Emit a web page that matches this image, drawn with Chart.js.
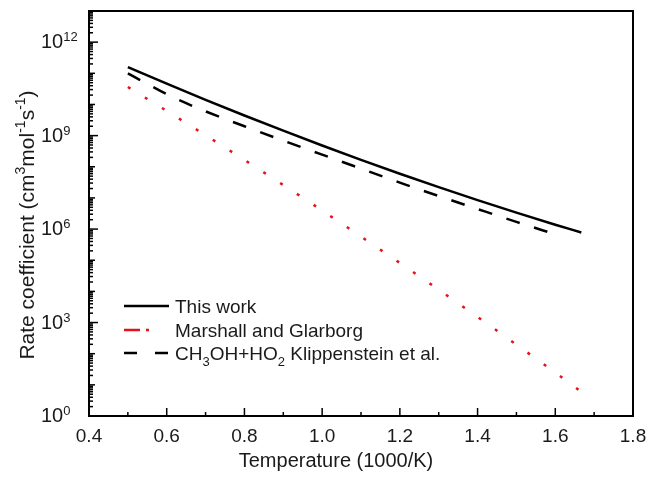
<!DOCTYPE html>
<html>
<head>
<meta charset="utf-8">
<script src="https://cdn.jsdelivr.net/npm/chart.js@4.4.1/dist/chart.umd.min.js"></script>
<style>
html, body { margin: 0; padding: 0; background: #fff; }
#wrap { width: 649px; height: 478px; }
</style>
</head>
<body>
<div id="wrap"><canvas id="graficoRate"></canvas></div>
<script>
const FONT = "'Liberation Sans', Arial, sans-serif";
const TXT = '#1a1a1a';

// 1000/T and rate coefficient (cm3 mol-1 s-1)
const xThisWork = [0.5, 0.6, 0.7, 0.8, 0.9, 1.0, 1.1, 1.2, 1.3, 1.4, 1.5, 1.6, 1.667];
const kThisWork = [1.58e11, 4.65e10, 1.41e10, 4.43e9, 1.44e9, 4.81e8, 1.67e8, 5.98e7, 2.22e7, 8.5e6, 3.38e6, 1.38e6, 7.8e5];

const xMarshall = [0.5, 0.6, 0.7, 0.8, 0.9, 1.0, 1.1, 1.2, 1.3, 1.4, 1.5, 1.6, 1.667];
const kMarshall = [3.63e10, 6.2e9, 1.03e9, 1.66e8, 2.59e7, 3.92e6, 5.74e5, 8.2e4, 1.13e4, 1.51e3, 195, 24.6, 6.0];

const xKlipp = [0.5, 0.55, 0.6, 0.65, 0.7, 0.8, 0.9, 1.0, 1.1, 1.2, 1.3, 1.4, 1.5, 1.6];
const kKlipp = [1.0e11, 4.57e10, 2.14e10, 1.1e10, 6.0e9, 2.0e9, 6.9e8, 2.45e8, 8.7e7, 3.1e7, 1.15e7, 4.4e6, 1.7e6, 6.8e5];

const xTickValues = [0.4, 0.6, 0.8, 1.0, 1.2, 1.4, 1.6, 1.8];
const yLabelExps = [0, 3, 6, 9, 12];

// legend text pieces: [text, 0 normal / -1 subscript]
const legendParts = [
    [['This work', 0]],
    [['Marshall and Glarborg', 0]],
    [['CH', 0], ['3', -1], ['OH+HO', 0], ['2', -1], [' Klippenstein et al.', 0]]
];

function pts(xs, ks) {
    return xs.map((v, i) => ({ x: v, y: ks[i] }));
}

function drawParts(ctx, parts, x, y, big, small, supShift, subShift) {
    for (const [t, s] of parts) {
        ctx.font = (s === 0 ? big : small) + 'px ' + FONT;
        const dy = s > 0 ? -supShift : (s < 0 ? subShift : 0);
        ctx.fillText(t, x, y + dy);
        x += ctx.measureText(t).width;
    }
    return x;
}

function partsWidth(ctx, parts, big, small) {
    let w = 0;
    for (const [t, s] of parts) {
        ctx.font = (s === 0 ? big : small) + 'px ' + FONT;
        w += ctx.measureText(t).width;
    }
    return w;
}

const moldura = {
    id: 'moldura',
    afterDraw(chart) {
        const { ctx, chartArea: a, scales: { x, y } } = chart;
        ctx.save();
        ctx.strokeStyle = '#000';
        ctx.fillStyle = TXT;

        // frame
        ctx.lineWidth = 2;
        ctx.strokeRect(a.left, a.top, a.right - a.left, a.bottom - a.top);

        // x ticks pointing inward
        ctx.lineWidth = 1.5;
        for (let i = 0; i <= 14; i++) {
            const px = x.getPixelForValue(0.4 + i * 0.1);
            const len = i % 2 === 0 ? 8 : 4;
            ctx.beginPath();
            ctx.moveTo(px, a.bottom);
            ctx.lineTo(px, a.bottom - len);
            ctx.stroke();
        }

        // y ticks pointing inward (log)
        for (let e = 0; e <= 13; e++) {
            for (let m = 1; m <= 9; m++) {
                const v = m * Math.pow(10, e);
                if (v > 1e13) break;
                const py = y.getPixelForValue(v);
                const len = m === 1 ? (e % 3 === 0 ? 9 : 6) : 4;
                ctx.beginPath();
                ctx.moveTo(a.left, py);
                ctx.lineTo(a.left + len, py);
                ctx.stroke();
            }
        }

        // y tick labels 10^n
        ctx.textAlign = 'left';
        ctx.textBaseline = 'alphabetic';
        for (const e of yLabelExps) {
            const py = y.getPixelForValue(Math.pow(10, e));
            drawParts(ctx, [['10', 0], [String(e), 1]], 41, py + 6, 20, 13, 7, 0);
        }

        // axis titles
        ctx.font = '20px ' + FONT;
        ctx.textAlign = 'center';
        ctx.fillText('Temperature (1000/K)', 336, 467);

        const yTitle = [['Rate coefficient (cm', 0], ['3', 1], ['mol', 0], ['-1', 1], ['s', 0], ['-1', 1], [')', 0]];
        ctx.save();
        ctx.translate(34, 225);
        ctx.rotate(-Math.PI / 2);
        ctx.textAlign = 'left';
        const tw = partsWidth(ctx, yTitle, 21, 14);
        drawParts(ctx, yTitle, -tw / 2, 0, 21, 14, 9, 0);
        ctx.restore();

        // legend
        const rows = [306, 330, 353];
        ctx.textAlign = 'left';
        chart.data.datasets.forEach((ds, i) => {
            const ly = rows[i];
            ctx.save();
            ctx.strokeStyle = ds.borderColor;
            ctx.lineWidth = ds.borderWidth;
            ctx.setLineDash(ds.legendDash || []);
            ctx.beginPath();
            ctx.moveTo(124, ly);
            ctx.lineTo(169, ly);
            ctx.stroke();
            ctx.restore();
            drawParts(ctx, legendParts[i], 175, ly + 7, 19, 13, 0, 6);
        });

        ctx.restore();
    }
};

const ctx = document.getElementById('graficoRate').getContext('2d');
const graficoRate = new Chart(ctx, {
    type: 'line',
    data: {
        datasets: [{
            label: 'This work',
            data: pts(xThisWork, kThisWork),
            borderColor: '#000',
            borderWidth: 2.5,
            pointRadius: 0,
            cubicInterpolationMode: 'monotone'
        }, {
            label: 'Marshall and Glarborg',
            data: pts(xMarshall, kMarshall),
            borderColor: '#e3121b',
            borderWidth: 2.5,
            borderDash: [3, 17],
            legendDash: [16, 6, 3, 40],
            pointRadius: 0,
            cubicInterpolationMode: 'monotone'
        }, {
            label: 'CH3OH+HO2 Klippenstein et al.',
            data: pts(xKlipp, kKlipp),
            borderColor: '#000',
            borderWidth: 2.5,
            borderDash: [14, 15],
            legendDash: [13, 18],
            pointRadius: 0,
            cubicInterpolationMode: 'monotone'
        }]
    },
    options: {
        responsive: true,
        maintainAspectRatio: false,
        animation: false,
        layout: { padding: { left: 0, top: 11, right: 16, bottom: 0 } },
        plugins: {
            legend: { display: false },
            tooltip: { enabled: false }
        },
        scales: {
            x: {
                type: 'linear',
                min: 0.4,
                max: 1.8,
                afterBuildTicks: (s) => { s.ticks = xTickValues.map(v => ({ value: v })); },
                afterFit: (s) => { s.height = 62; s.paddingLeft = 0; s.paddingRight = 0; },
                grid: { display: false, drawTicks: false },
                border: { display: false },
                ticks: {
                    padding: 9,
                    maxRotation: 0,
                    color: TXT,
                    font: { family: FONT, size: 19 },
                    callback: (v) => Number(v).toFixed(1)
                }
            },
            y: {
                type: 'logarithmic',
                min: 1,
                max: 1e13,
                afterFit: (s) => { s.width = 89; s.paddingTop = 0; s.paddingBottom = 0; },
                grid: { display: false, drawTicks: false },
                border: { display: false },
                ticks: { display: false }
            }
        }
    },
    plugins: [moldura]
});
</script>
</body>
</html>
